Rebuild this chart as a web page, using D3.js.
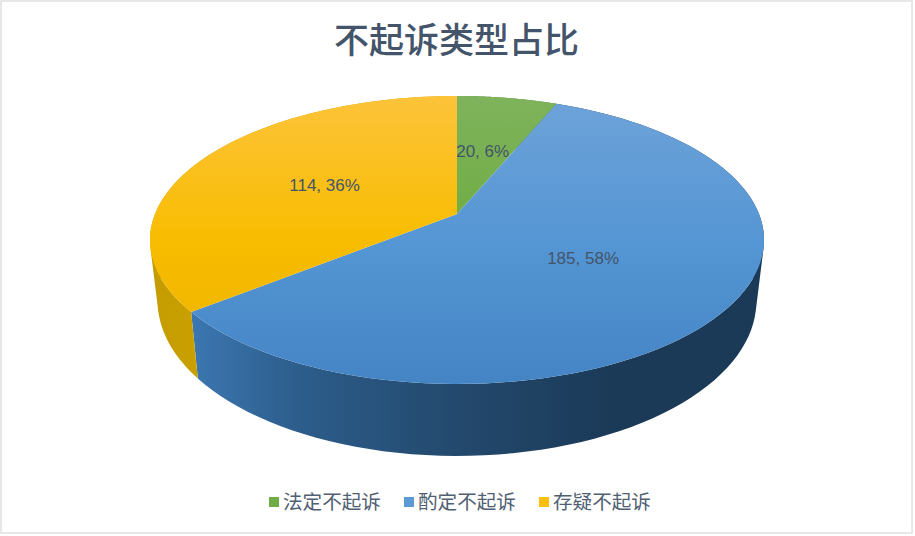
<!DOCTYPE html>
<html>
<head>
<meta charset="utf-8">
<script src="https://cdn.jsdelivr.net/npm/d3@7"></script>
<style>
  html, body { margin: 0; padding: 0; background: #fff; }
  svg { display: block; }
  text { font-family: "Noto Sans CJK SC", sans-serif; fill: #44546a; }
  .label { font-family: "Liberation Sans", sans-serif; font-size: 17px; }
  .legend-text { fill: #505f73; }
</style>
</head>
<body>
<svg width="915" height="536"></svg>
<script>
var categories = ["法定不起诉", "酌定不起诉", "存疑不起诉"];
var values = [20, 185, 114];
var percents = ["6%", "58%", "36%"];
var topColors = [
  ["#7fb35c", "#6fac42", "#68a52e"],
  ["#6ea3d9", "#5596d4", "#4484c5"],
  ["#fdc33a", "#f8bd00", "#ebb100"]
];
var wallColors = [
  ["#4f7a32", "#4f7a32"],
  ["#4281c0", "#2c5c8a", "#23496d", "#1b3a58", "#1b3a58"],
  ["#c49c00", "#d8aa00", "#dfac00", "#dfac00", "#dfac00"]
];
var legendColors = ["#70ad47", "#5b9bd5", "#fbbf10"];
var chartTitle = "不起诉类型占比";

var svg = d3.select("svg");

svg.append("rect")
    .attr("x", 1).attr("y", 1)
    .attr("width", 911).attr("height", 532)
    .attr("fill", "#fff").attr("stroke", "#e0e0e0").attr("stroke-width", 1.5);

// perspective disc: the near half of the pie looks bigger than the far half
var cx = 457, apexY = 214, rx = 302, ryFront = 170, ryBack = 118;
var persp = (ryFront / ryBack - 1) / (ryFront / ryBack + 1),
    ry = ryFront * (1 - persp);
var depth = {sx: 0.975, sy: 1.076, dy: 59};
var labelRadius = 0.5;

function project(angle, r, lower) {
  var u = r * Math.sin(angle),
      v = -r * Math.cos(angle),
      w = 1 - persp * v,
      sx = lower ? depth.sx : 1,
      sy = lower ? depth.sy : 1,
      y0 = lower ? apexY + depth.dy : apexY;
  return [cx + sx * rx * u / w, y0 + sy * ry * v / w];
}

var pie = d3.pie().sort(null).value(function (d) { return d; });
var arcs = pie(values);
var line = d3.line();

function samples(d) {
  return d3.range(0, 1.0001, 1 / 90).map(function (t) {
    return d.startAngle + t * (d.endAngle - d.startAngle);
  });
}

var defs = svg.append("defs");
var extentX = [cx - rx * 1.02, cx + rx * 1.02];

function addStops(grad, colors) {
  colors.forEach(function (c, k) {
    grad.append("stop")
        .attr("offset", (k / (colors.length - 1) * 100) + "%")
        .attr("stop-color", c);
  });
}

arcs.forEach(function (d, i) {
  var top = defs.append("linearGradient")
      .attr("id", "top" + i)
      .attr("gradientUnits", "userSpaceOnUse")
      .attr("x1", 0).attr("x2", 0)
      .attr("y1", apexY - ryBack).attr("y2", apexY + ryFront);
  addStops(top, topColors[i]);

  var wall = defs.append("linearGradient")
      .attr("id", "wall" + i)
      .attr("gradientUnits", "userSpaceOnUse")
      .attr("x1", extentX[0]).attr("x2", extentX[1])
      .attr("y1", 0).attr("y2", 0);
  addStops(wall, wallColors[i]);
});

// side walls first, the top faces cover what lies behind.
// each wall is a strip of small hulls so the silhouette runs edge to edge
svg.append("g").selectAll("path")
    .data(arcs)
    .join("path")
    .attr("fill", function (d, i) { return "url(#wall" + i + ")"; })
    .attr("d", function (d) {
      var a = samples(d), out = "";
      for (var k = 0; k < a.length - 1; k++) {
        out += line(d3.polygonHull([
          project(a[k], 1, false), project(a[k + 1], 1, false),
          project(a[k + 1], 1, true), project(a[k], 1, true)
        ])) + "Z";
      }
      return out;
    });

svg.append("g").selectAll("path")
    .data(arcs)
    .join("path")
    .attr("fill", function (d, i) { return "url(#top" + i + ")"; })
    .attr("d", function (d) {
      var pts = [project(0, 0, false)].concat(samples(d).map(function (t) {
        return project(t, 1, false);
      }));
      return line(pts) + "Z";
    });

// data labels
svg.append("g").selectAll("text")
    .data(arcs)
    .join("text")
    .attr("class", "label")
    .attr("text-anchor", "middle")
    .attr("dy", "0.35em")
    .attr("x", function (d) {
      return project((d.startAngle + d.endAngle) / 2, labelRadius, false)[0] - 1.5;
    })
    .attr("y", function (d) {
      return project((d.startAngle + d.endAngle) / 2, labelRadius, false)[1];
    })
    .text(function (d, i) { return d.value + ", " + percents[i]; });

svg.append("text")
    .attr("x", cx - 0.5).attr("y", 53)
    .attr("text-anchor", "middle")
    .attr("font-size", 35)
    .attr("font-weight", 500)
    .text(chartTitle);

// legend
var legendX = d3.scalePoint().domain(categories).range([269, 539]);
var legend = svg.append("g").selectAll("g")
    .data(categories)
    .join("g")
    .attr("transform", function (d) { return "translate(" + legendX(d) + ",497)"; });
legend.append("rect")
    .attr("width", 10).attr("height", 10)
    .attr("fill", function (d, i) { return legendColors[i]; });
legend.append("text")
    .attr("class", "legend-text")
    .attr("x", 14).attr("y", 12)
    .attr("font-size", 19.6)
    .text(function (d) { return d; });
</script>
</body>
</html>
